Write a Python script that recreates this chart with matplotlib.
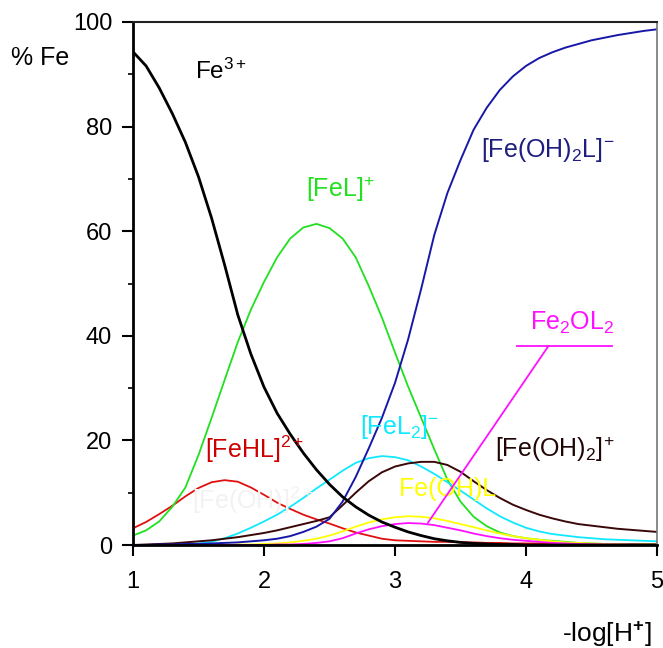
import numpy as np
import matplotlib
matplotlib.use("Agg")
import matplotlib.pyplot as plt
from matplotlib.ticker import MultipleLocator

plt.rcParams['font.family'] = ['Liberation Sans', 'DejaVu Sans']
plt.rcParams['mathtext.fontset'] = 'custom'
plt.rcParams['mathtext.rm'] = 'Liberation Sans'
plt.rcParams['mathtext.it'] = 'Liberation Sans:italic'
plt.rcParams['mathtext.bf'] = 'Liberation Sans:bold'

# -log[H+]
x = [1.0, 1.1, 1.2, 1.3, 1.4, 1.5, 1.6, 1.7, 1.8, 1.9,
     2.0, 2.1, 2.2, 2.3, 2.4, 2.5, 2.6, 2.7, 2.8, 2.9,
     3.0, 3.1, 3.2, 3.3, 3.4, 3.5, 3.6, 3.7, 3.8, 3.9,
     4.0, 4.1, 4.2, 4.3, 4.4, 4.5, 4.6, 4.7, 4.8, 4.9, 5.0]

fe3 = [94.3, 91.6, 87.4, 82.5, 77.0, 70.4, 62.5, 53.5, 44.0, 36.5,
       30.2, 25.2, 21.2, 17.6, 14.4, 11.6, 9.2, 7.3, 5.7, 4.4,
       3.4, 2.5, 1.8, 1.2, 0.8, 0.5, 0.3, 0.2, 0.1, 0.1,
       0.0, 0.0, 0.0, 0.0, 0.0, 0.0, 0.0, 0.0, 0.0, 0.0, 0.0]

fel = [1.8, 2.8, 4.5, 7.3, 11.0, 17.2, 24.3, 31.6, 38.8, 45.0,
       50.3, 55.0, 58.6, 60.7, 61.4, 60.6, 58.6, 55.0, 49.5, 43.5,
       36.8, 30.3, 24.3, 18.3, 12.5, 8.3, 5.4, 3.6, 2.4, 1.7,
       1.3, 1.0, 0.8, 0.6, 0.4, 0.3, 0.2, 0.2, 0.1, 0.1, 0.1]

fehl = [3.2, 4.4, 5.9, 7.5, 9.3, 10.9, 12.0, 12.4, 12.1, 11.0,
        9.6, 8.1, 6.9, 5.8, 4.9, 4.1, 3.2, 2.4, 1.8, 1.2,
        0.9, 0.8, 0.7, 0.6, 0.6, 0.5, 0.5, 0.4, 0.4, 0.3,
        0.3, 0.3, 0.3, 0.3, 0.2, 0.2, 0.2, 0.2, 0.2, 0.2, 0.2]

feoh2l = [0.0, 0.0, 0.1, 0.1, 0.2, 0.2, 0.3, 0.4, 0.5, 0.7,
          0.9, 1.2, 1.7, 2.5, 3.5, 5.0, 8.3, 13.0, 18.5, 24.3,
          31.0, 39.3, 49.0, 59.3, 67.3, 73.6, 79.4, 83.6, 87.0, 89.6,
          91.6, 93.1, 94.2, 95.1, 95.8, 96.5, 97.0, 97.5, 97.9, 98.3, 98.6]

fel2 = [0.0, 0.0, 0.0, 0.1, 0.2, 0.3, 0.6, 1.3, 2.2, 3.3,
        4.5, 5.8, 7.3, 9.0, 10.8, 12.5, 14.2, 15.7, 16.6, 17.0,
        16.8, 16.2, 15.0, 13.6, 12.0, 10.4, 8.7, 7.0, 5.5, 4.3,
        3.3, 2.6, 2.1, 1.8, 1.5, 1.3, 1.1, 1.0, 0.9, 0.8, 0.7]

feoh2 = [0.0, 0.1, 0.2, 0.3, 0.5, 0.7, 0.9, 1.2, 1.5, 1.9,
         2.3, 2.8, 3.4, 4.0, 4.6, 5.3, 7.6, 10.0, 12.2, 13.9,
         15.0, 15.6, 15.9, 15.9, 15.3, 14.0, 12.2, 10.5, 9.0, 7.7,
         6.7, 5.8, 5.1, 4.5, 4.0, 3.7, 3.4, 3.1, 2.9, 2.7, 2.5]

feohl = [0.0, 0.0, 0.0, 0.0, 0.0, 0.0, 0.0, 0.0, 0.1, 0.1,
         0.2, 0.3, 0.5, 0.8, 1.2, 1.8, 2.6, 3.5, 4.3, 4.9,
         5.3, 5.5, 5.4, 5.1, 4.6, 4.0, 3.4, 2.8, 2.2, 1.7,
         1.3, 1.0, 0.7, 0.5, 0.4, 0.3, 0.2, 0.2, 0.1, 0.1, 0.1]

fe2ol2 = [0.0, 0.0, 0.0, 0.0, 0.0, 0.0, 0.0, 0.0, 0.0, 0.0,
          0.0, 0.1, 0.1, 0.2, 0.4, 0.7, 1.3, 2.2, 3.0, 3.6,
          4.0, 4.2, 4.1, 3.8, 3.3, 2.8, 2.2, 1.7, 1.3, 1.0,
          0.8, 0.6, 0.4, 0.3, 0.2, 0.15, 0.1, 0.1, 0.1, 0.05, 0.05]

fig = plt.figure(figsize=(6.63, 6.48), dpi=100)
ax = fig.add_axes([133/663, 1-545/648, (657-133)/663, (545-22)/648])

ax.plot(x, fehl, color='#e01010', lw=1.3)
ax.plot(x, fel, color='#20e020', lw=1.3)
ax.plot(x, fel2, color='#10e8ff', lw=1.3)
ax.plot(x, feohl, color='#ffff00', lw=1.3)
ax.plot(x, fe2ol2, color='#ff10ff', lw=1.3)
ax.plot(x, feoh2, color='#3a0808', lw=1.4)
ax.plot(x, feoh2l, color='#1818a8', lw=1.4)
ax.plot(x, fe3, color='black', lw=2.0)

fs = 17
ls = 18
ax.text(1.47, 90.5, 'Fe$^{3+}$', color='black', fontsize=17.5, va='center', ha='left')
ax.text(2.32, 68.0, '[FeL]$^{+}$', color='#20e020', fontsize=ls, va='center', ha='left')
ax.text(3.66, 75.5, '[Fe(OH)$_2$L]$^{-}$', color='#1e1e80', fontsize=ls, va='center', ha='left')
ax.text(1.55, 18.3, '[FeHL]$^{2+}$', color='#cc0000', fontsize=ls, va='center', ha='left')
ax.text(2.73, 22.5, '[FeL$_2$]$^{-}$', color='#10e8ff', fontsize=ls, va='center', ha='left')
ax.text(3.76, 18.3, '[Fe(OH)$_2$]$^{+}$', color='#200505', fontsize=ls, va='center', ha='left')
ax.text(3.03, 10.8, 'Fe(OH)L', color='#ffff00', fontsize=ls, va='center', ha='left')
ax.text(1.45, 8.5, '[Fe(OH)]$^{2+}$', color='#f2f2f2', fontsize=ls, va='center', ha='left')
ax.text(4.03, 42.5, 'Fe$_2$OL$_2$', color='#ff10ff', fontsize=ls, va='center', ha='left')

# leader line for Fe2OL2
i = x.index(3.2)
ax.annotate('', xy=(x[i] + 0.05, fe2ol2[i] + 0.1), xytext=(4.17, 38.0),
            arrowprops=dict(arrowstyle='-', color='#ff10ff', lw=1.3,
                            shrinkA=0, shrinkB=0))
ax.plot([3.93, 4.66], [38.0, 38.0], color='#ff10ff', lw=1.3)

ax.set_xlim(1, 5)
ax.set_ylim(0, 100)
ax.set_xticks([1, 2, 3, 4, 5])
ax.set_yticks([0, 20, 40, 60, 80, 100])
ax.yaxis.set_minor_locator(MultipleLocator(10))
ax.tick_params(axis='both', which='major', direction='out', length=8, width=1.5,
               labelsize=fs, colors='black')
ax.tick_params(axis='x', which='major', pad=11)
ax.tick_params(axis='y', which='major', pad=7)
ax.tick_params(axis='y', which='minor', direction='out', length=3.5, width=1.2)

for s in ['left', 'bottom']:
    ax.spines[s].set_linewidth(2.0)
    ax.spines[s].set_color('black')
ax.spines['top'].set_linewidth(1.5)
ax.spines['top'].set_color('#222222')
ax.spines['right'].set_linewidth(1.2)
ax.spines['right'].set_color('#777777')

fig.text(11/663, 1-58/648, '% Fe', fontsize=18, va='center', ha='left')
fig.text(562/663, 1-634/648, r'-log[H$^{\mathbf{+}}$]', fontsize=19, va='center', ha='left')

fig.savefig('out.png', dpi=100)
